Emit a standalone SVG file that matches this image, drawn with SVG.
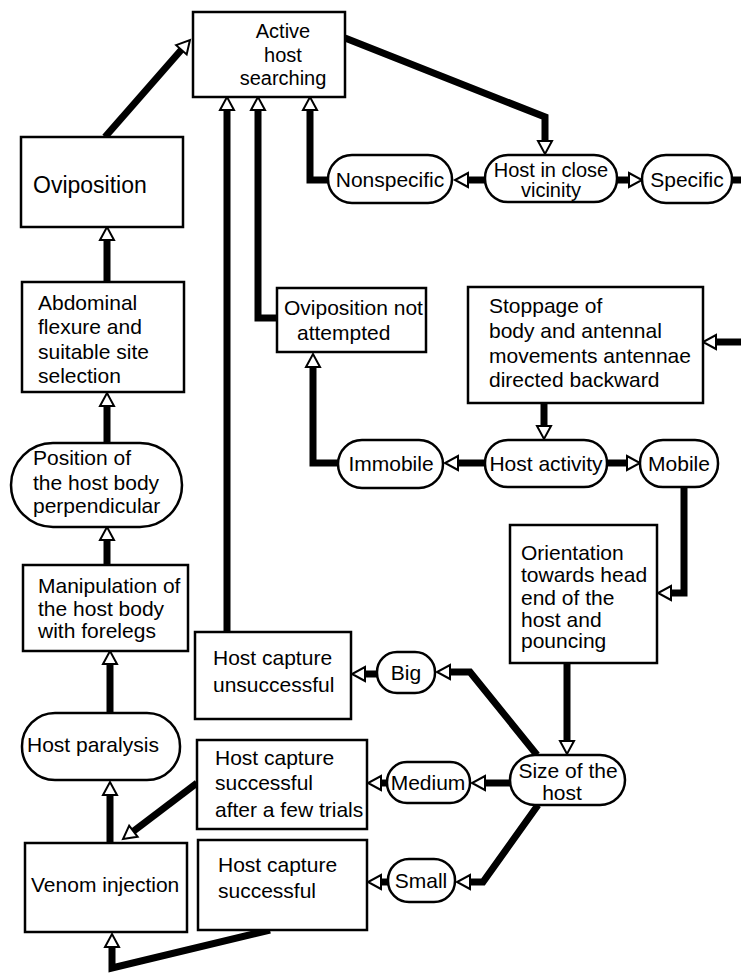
<svg xmlns="http://www.w3.org/2000/svg" width="741" height="974" viewBox="0 0 741 974">
<style>
.bx{fill:#fff;stroke:#000;stroke-width:2.5}
text{font-family:"Liberation Sans",Arial,sans-serif;font-size:21px;fill:#000}
.m{text-anchor:middle}
.c{fill:none;stroke:#000;stroke-width:7;stroke-linejoin:miter;marker-end:url(#ah)}
.s{fill:none;stroke:#000;stroke-width:7}
</style>
<defs>
<marker id="ah" markerUnits="userSpaceOnUse" markerWidth="16" markerHeight="16" refX="1" refY="7" orient="auto" overflow="visible">
<path d="M1,0 L14,7 L1,14 Z" fill="#fff" stroke="#000" stroke-width="2"/>
</marker>
</defs>
<rect width="741" height="974" fill="#fff"/>
<g id="connectors">
<path class="c" d="M105,137 L181.4,49.8"/>
<path class="c" d="M345,38 L545,117 L545,141"/>
<path class="c" d="M485,180 L468,180"/>
<path class="c" d="M617,180 L629,180"/>
<path class="s" d="M732,180 L741,180"/>
<path class="c" d="M328,180 L310,180 L310,110"/>
<path class="c" d="M277,318 L258,318 L258,110"/>
<path class="c" d="M227,632 L227,110"/>
<path class="c" d="M338,463 L313,463 L313,367"/>
<path class="c" d="M544,403 L544,426"/>
<path class="c" d="M741,342 L716,342"/>
<path class="c" d="M485,463 L458,463"/>
<path class="c" d="M607,463 L627,463"/>
<path class="c" d="M684,487 L684,593 L671,593"/>
<path class="c" d="M567,663 L567,741"/>
<path class="c" d="M537,755 L470,672 L450,672"/>
<path class="c" d="M510,783 L485,783"/>
<path class="c" d="M538,805 L483,882 L470,882"/>
<path class="c" d="M377,674 L365,674"/>
<path class="c" d="M387,783 L381,783"/>
<path class="c" d="M388,882 L381,882"/>
<path class="c" d="M197,783 L133.4,831.2"/>
<path class="c" d="M270,930 L112,968 L112,947"/>
<path class="c" d="M110,843 L110,795"/>
<path class="c" d="M110,713 L110,664"/>
<path class="c" d="M107,565 L107,540"/>
<path class="c" d="M107,443 L107,406"/>
<path class="c" d="M107,282 L107,240"/>
</g>
<g id="active">
<rect class="bx" x="193" y="12" width="152" height="85"/>
<text class="m" x="283" y="38" style="font-size:20px">Active</text>
<text class="m" x="283" y="62" style="font-size:20px">host</text>
<text class="m" x="283" y="85" style="font-size:20px">searching</text>
</g>
<g id="oviposition">
<rect class="bx" x="21" y="137" width="162" height="90"/>
<text x="33" y="193" style="font-size:23px">Oviposition</text>
</g>
<g id="abdominal">
<rect class="bx" x="22" y="282" width="162" height="110"/>
<text x="38" y="310">Abdominal</text>
<text x="38" y="334">flexure  and</text>
<text x="38" y="359">suitable site</text>
<text x="38" y="383">selection</text>
</g>
<g id="position">
<rect class="bx" x="11" y="443" width="171" height="84" rx="42"/>
<text x="33" y="465">Position of</text>
<text x="33" y="490">the host body</text>
<text x="33" y="513">perpendicular</text>
</g>
<g id="manipulation">
<rect class="bx" x="23" y="565" width="165" height="86"/>
<text x="38" y="593">Manipulation of</text>
<text x="38" y="616">the host body</text>
<text x="38" y="638">with  forelegs</text>
</g>
<g id="paralysis">
<rect class="bx" x="22" y="713" width="158" height="67" rx="33"/>
<text x="27" y="752">Host paralysis</text>
</g>
<g id="venom">
<rect class="bx" x="25" y="843" width="162" height="89"/>
<text x="31" y="892">Venom  injection</text>
</g>
<g id="nonspecific">
<rect class="bx" x="328" y="155" width="124" height="48" rx="24"/>
<text class="m" x="390" y="187">Nonspecific</text>
</g>
<g id="closevicinity">
<rect class="bx" x="485" y="155" width="132" height="47" rx="23"/>
<text class="m" x="551" y="177" style="font-size:20px">Host in close</text>
<text class="m" x="551" y="197" style="font-size:20px">vicinity</text>
</g>
<g id="specific">
<rect class="bx" x="642" y="155" width="90" height="48" rx="24"/>
<text class="m" x="687" y="187">Specific</text>
</g>
<g id="notattempted">
<rect class="bx" x="277" y="288" width="149" height="64"/>
<text x="284" y="315">Oviposition not</text>
<text x="297" y="340">attempted</text>
</g>
<g id="stoppage">
<rect class="bx" x="468" y="287" width="235" height="116"/>
<text x="489" y="313">Stoppage of</text>
<text x="489" y="338">body and antennal</text>
<text x="489" y="363">movements antennae</text>
<text x="489" y="387">directed  backward</text>
</g>
<g id="immobile">
<rect class="bx" x="338" y="440" width="105" height="48" rx="24"/>
<text class="m" x="391" y="471">Immobile</text>
</g>
<g id="hostactivity">
<rect class="bx" x="485" y="440" width="122" height="47" rx="23"/>
<text class="m" x="546" y="471">Host activity</text>
</g>
<g id="mobile">
<rect class="bx" x="640" y="440" width="78" height="47" rx="23"/>
<text class="m" x="679" y="471">Mobile</text>
</g>
<g id="orientation">
<rect class="bx" x="510" y="525" width="147" height="138"/>
<text x="521" y="560">Orientation</text>
<text x="521" y="582">towards head</text>
<text x="521" y="605">end of the</text>
<text x="521" y="627">host and</text>
<text x="521" y="648">pouncing</text>
</g>
<g id="unsuccessful">
<rect class="bx" x="195" y="632" width="156" height="87"/>
<text x="213" y="665">Host capture</text>
<text x="213" y="692">unsuccessful</text>
</g>
<g id="big">
<rect class="bx" x="377" y="652" width="58" height="41" rx="20"/>
<text class="m" x="406" y="680">Big</text>
</g>
<g id="size">
<rect class="bx" x="510" y="755" width="115" height="50" rx="25"/>
<text class="m" x="568" y="778">Size of the</text>
<text class="m" x="562" y="800">host</text>
</g>
<g id="fewtrials">
<rect class="bx" x="197" y="740" width="170" height="89"/>
<text x="215" y="765">Host capture</text>
<text x="215" y="790">successful</text>
<text x="215" y="817">after a few trials</text>
</g>
<g id="medium">
<rect class="bx" x="387" y="762" width="83" height="41" rx="20"/>
<text class="m" x="428" y="790">Medium</text>
</g>
<g id="successful">
<rect class="bx" x="198" y="840" width="169" height="90"/>
<text x="218" y="872">Host capture</text>
<text x="218" y="898">successful</text>
</g>
<g id="small">
<rect class="bx" x="388" y="859" width="67" height="43" rx="21"/>
<text class="m" x="421" y="888">Small</text>
</g>
</svg>
